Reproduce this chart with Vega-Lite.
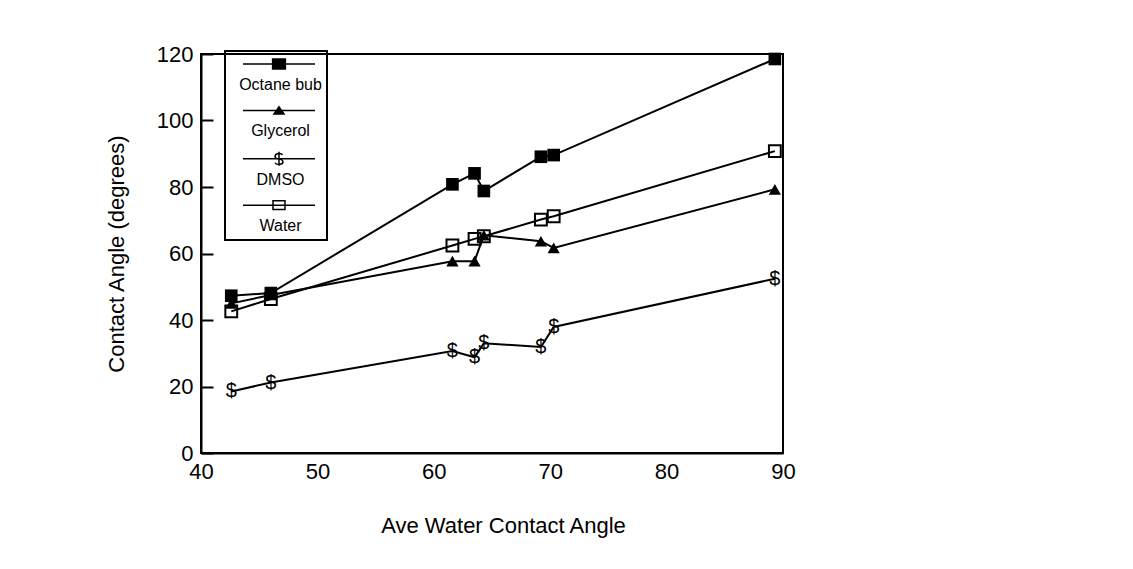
{
  "$schema": "https://vega.github.io/schema/vega-lite/v6.json",
  "autosize": {"type": "none"},
  "padding": {"left": 201, "top": 54, "right": 350, "bottom": 116},
  "width": 582,
  "height": 399,
  "background": "white",
  "config": {
    "font": "Liberation Sans",
    "view": {"stroke": "black", "strokeWidth": 2},
    "axis": {
      "grid": false,
      "domainColor": "black",
      "domainWidth": 2,
      "labelColor": "black",
      "labelFont": "Liberation Sans",
      "labelFontSize": 22,
      "titleFont": "Liberation Sans",
      "titleFontSize": 22,
      "titleFontWeight": "normal",
      "titleColor": "black",
      "tickColor": "black",
      "tickWidth": 2
    }
  },
  "data": {
    "values": [
      {"x": 42.6, "y": 47.3, "s": "Octane bub"},
      {"x": 46.0, "y": 48.1, "s": "Octane bub"},
      {"x": 61.6, "y": 80.8, "s": "Octane bub"},
      {"x": 63.5, "y": 84.1, "s": "Octane bub"},
      {"x": 64.3, "y": 78.8, "s": "Octane bub"},
      {"x": 69.2, "y": 89.1, "s": "Octane bub"},
      {"x": 70.3, "y": 89.6, "s": "Octane bub"},
      {"x": 89.3, "y": 118.5, "s": "Octane bub"},
      {"x": 42.6, "y": 45.0, "s": "Glycerol"},
      {"x": 46.0, "y": 47.5, "s": "Glycerol"},
      {"x": 61.6, "y": 57.7, "s": "Glycerol"},
      {"x": 63.5, "y": 57.7, "s": "Glycerol"},
      {"x": 64.3, "y": 65.5, "s": "Glycerol"},
      {"x": 69.2, "y": 63.7, "s": "Glycerol"},
      {"x": 70.3, "y": 61.7, "s": "Glycerol"},
      {"x": 89.3, "y": 79.3, "s": "Glycerol"},
      {"x": 42.6, "y": 18.5, "s": "DMSO"},
      {"x": 46.0, "y": 21.2, "s": "DMSO"},
      {"x": 61.6, "y": 30.7, "s": "DMSO"},
      {"x": 63.5, "y": 28.8, "s": "DMSO"},
      {"x": 64.3, "y": 33.0, "s": "DMSO"},
      {"x": 69.2, "y": 31.9, "s": "DMSO"},
      {"x": 70.3, "y": 37.9, "s": "DMSO"},
      {"x": 89.3, "y": 52.4, "s": "DMSO"},
      {"x": 42.6, "y": 42.6, "s": "Water"},
      {"x": 46.0, "y": 46.3, "s": "Water"},
      {"x": 61.6, "y": 62.4, "s": "Water"},
      {"x": 63.5, "y": 64.4, "s": "Water"},
      {"x": 64.3, "y": 65.2, "s": "Water"},
      {"x": 69.2, "y": 70.2, "s": "Water"},
      {"x": 70.3, "y": 71.2, "s": "Water"},
      {"x": 89.3, "y": 90.8, "s": "Water"}
    ]
  },
  "encoding": {
    "x": {
      "field": "x", "type": "quantitative",
      "scale": {"domain": [40, 90], "nice": false, "zero": false},
      "axis": {"values": [40, 50, 60, 70, 80, 90], "ticks": false, "labelPadding": 8, "title": "Ave Water Contact Angle", "titlePadding": 33, "titleX": 302, "labelFlush": false}
    },
    "y": {
      "field": "y", "type": "quantitative",
      "scale": {"domain": [0, 120], "nice": false},
      "axis": {
        "values": [0, 20, 40, 60, 80, 100, 120], "tickSize": -12, "labelPadding": 20,
        "title": "Contact Angle (degrees)", "titlePadding": 28,
        "encode": {"labels": {"update": {"dy": {"signal": "datum.value === 0 ? -5 : 0"}}}}
      }
    }
  },
  "layer": [
    {
      "mark": {"type": "line", "strokeWidth": 2},
      "encoding": {
        "color": {
          "field": "s", "type": "nominal",
          "scale": {"domain": ["Octane bub", "Glycerol", "DMSO", "Water"], "range": ["black", "black", "black", "black"]},
          "legend": {
            "orient": "none",
            "legendX": 24,
            "legendY": -3,
            "title": null,
            "padding": 5,
            "strokeColor": "black",
            "symbolSize": 64,
            "symbolStrokeWidth": 1.5,
            "symbolOffset": 41,
            "labelOffset": -6.5,
            "labelAlign": "center",
            "labelBaseline": "middle",
            "labelFont": "Liberation Sans",
            "labelFontSize": 16,
            "labelColor": "black",
            "rowPadding": 9.4,
            "encode": {
              "legend": {"update": {"strokeWidth": {"value": 2}}},
              "labels": {"update": {"dy": {"value": 21}}},
              "symbols": {
                "update": {
                  "shape": {"signal": "datum.value === 'Octane bub' ? 'M-9,0H9M-1.6,-1.25H1.6V1.25H-1.6Z' : datum.value === 'Glycerol' ? 'M-9,0H9M-1.25,0.9L0,-0.9L1.25,0.9Z' : datum.value === 'DMSO' ? 'M-9,0H9M0.9,-1C0.6,-1.5 -1,-1.5 -1,-0.5C-1,0.4 1,-0.25 1,0.75C1,1.6 -0.75,1.6 -1,1M0,-1.75V1.75' : 'M-9,0H9M-1.5,-1.1H1.5V1.1H-1.5Z'"},
                  "fill": {"signal": "datum.value === 'Octane bub' || datum.value === 'Glycerol' ? 'black' : 'transparent'"},
                  "stroke": {"value": "black"},
                  "strokeWidth": {"value": 1.5},
                  "opacity": {"value": 1}
                }
              }
            }
          }
        }
      }
    },
    {
      "transform": [{"filter": "datum.s === 'Octane bub'"}],
      "mark": {"type": "point", "shape": "square", "filled": true, "color": "black", "size": 160, "opacity": 1}
    },
    {
      "transform": [{"filter": "datum.s === 'Glycerol'"}],
      "mark": {"type": "point", "shape": "triangle-up", "filled": true, "color": "black", "size": 150, "opacity": 1}
    },
    {
      "transform": [{"filter": "datum.s === 'Water'"}],
      "mark": {"type": "point", "shape": "square", "filled": false, "color": "black", "strokeWidth": 2, "size": 140, "opacity": 1}
    },
    {
      "transform": [{"filter": "datum.s === 'DMSO'"}],
      "mark": {"type": "text", "text": "$", "font": "Liberation Sans", "fontSize": 20, "color": "black", "baseline": "middle", "align": "center"}
    }
  ]
}
